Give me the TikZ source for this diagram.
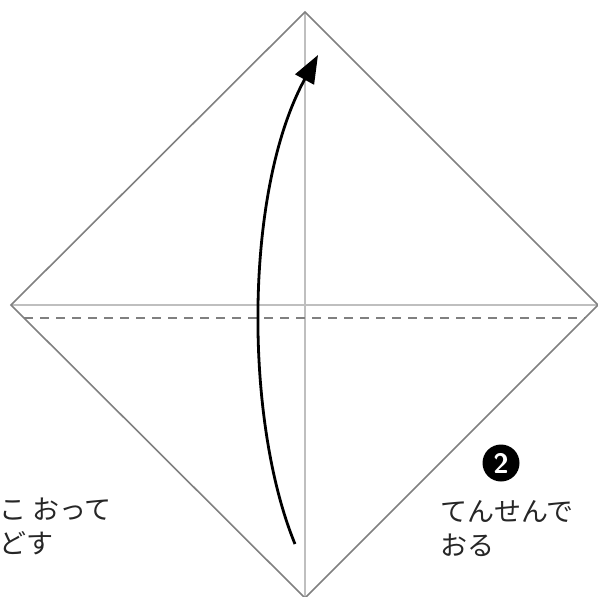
\documentclass[tikz,border=0pt]{standalone}
\usepackage{fontspec}
\newfontfamily\jpfont{Noto Sans CJK JP}
\usetikzlibrary{arrows.meta,positioning,calc}

\begin{document}
\begin{tikzpicture}[x=1pt,y=-1pt,
    edge/.style={draw=black!50, line width=1.6pt},
    crease/.style={draw=black!25, line width=1.4pt},
    fold/.style={draw=black!50, line width=1.5pt, dash pattern=on 9pt off 7pt},
    arr/.style={-{Triangle[length=28pt,width=21pt]}, line width=2.8pt},
    note/.style={font=\jpfont\fontsize{27}{34}\selectfont, align=left, text=black!85, inner sep=0pt},
    badge/.style={circle, fill=black, minimum size=37pt, inner sep=0pt, text=white,
      font=\sffamily\bfseries\fontsize{28}{28}\selectfont}
]
\useasboundingbox (0,0) rectangle (598,597);
% corners of the square
\coordinate (T) at (305,12);
\coordinate (L) at (11,305);
\coordinate (R) at (598,305);
\coordinate (B) at (305,598);
\coordinate (dl) at (24,318);
\coordinate (dr) at (585,318);

\draw[crease] (L) -- (R);
\draw[crease] (T) -- (B);
\draw[fold] (dl) -- (dr);
\draw[edge] (T) -- (R) -- (B) -- (L) -- cycle;

% fold arrow
\coordinate (from) at (295,544);
\coordinate (to) at (318,55);
\draw[arr] (from) .. controls (244,420) and (244,190) .. (to);

\node[badge] (num) at (501,463) {2};
\node[note, anchor=north west] (left) at (-1,498) {こ おって\\どす};
\node[note, anchor=north west] (right) at (440,500) {てんせんで\\おる};
\end{tikzpicture}
\end{document}
